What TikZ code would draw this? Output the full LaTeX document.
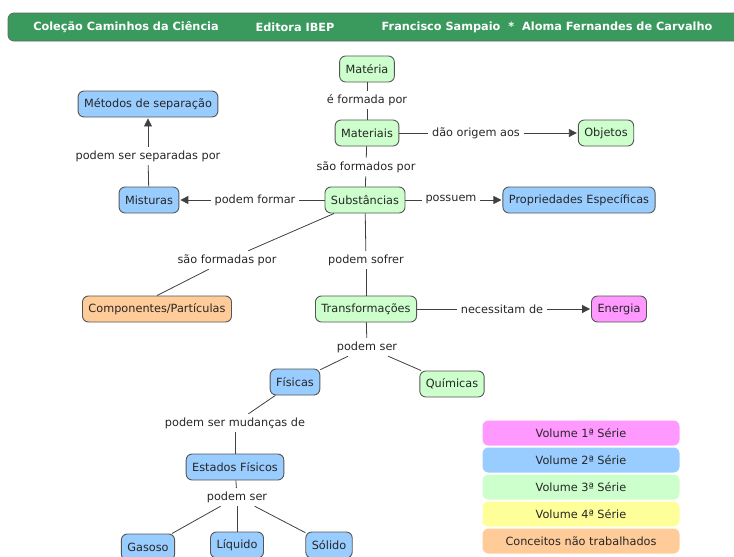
\documentclass[tikz,border=0pt]{standalone}
\usepackage{fontspec}
\setmainfont{DejaVu Sans}
\usetikzlibrary{arrows.meta}
\definecolor{hdr}{HTML}{3A9A5E}
\definecolor{cgreen}{HTML}{CCFFCC}
\definecolor{cblue}{HTML}{99CCFF}
\definecolor{corange}{HTML}{FFCC99}
\definecolor{cpink}{HTML}{FF99FF}
\definecolor{lpink}{HTML}{FF99FF}
\definecolor{lblue}{HTML}{99CCFF}
\definecolor{lgreen}{HTML}{CCFFCC}
\definecolor{lyellow}{HTML}{FFFF99}
\definecolor{lorange}{HTML}{FFCC99}
\definecolor{edge}{HTML}{555555}
\begin{document}
\begin{tikzpicture}[x=1pt,y=-1pt,
  every node/.style={font=\fontsize{11.3}{13}\selectfont, text=black!85},
  concept/.style={draw=edge, line width=0.9pt, rounded corners=6pt, minimum height=26pt, inner xsep=6pt, inner ysep=3pt},
  gbox/.style={concept, fill=cgreen},
  bbox/.style={concept, fill=cblue},
  obox/.style={concept, fill=corange},
  pbox/.style={concept, fill=cpink},
  lbl/.style={inner sep=3.5pt},
  hdrtext/.style={text=white, font=\fontsize{11.3}{13}\selectfont\bfseries},
  legend/.style={rounded corners=6pt, minimum width=197pt, minimum height=25pt, inner sep=0pt},
  link/.style={draw=black!75, line width=0.8pt},
  arr/.style={link, -{Triangle[length=8pt,width=8pt]}, shorten >=1pt}
]
\useasboundingbox (0,0) rectangle (734,557);
% header
\fill[hdr, draw=black!60, line width=0.8pt, rounded corners=6pt] (8,13) rectangle (745,41);
\node[hdrtext] (h1) at (126,27) {Coleção Caminhos da Ciência};
\node[hdrtext] (h2) at (295,27) {Editora IBEP};
\node[hdrtext] (h3) at (547,27) {Francisco Sampaio\ \ *\ \ Aloma Fernandes de Carvalho};

% concepts
\node[gbox] (materia) at (367,69) {Matéria};
\node[gbox] (materiais) at (367,133) {Materiais};
\node[gbox] (objetos) at (606,133) {Objetos};
\node[gbox] (subst) at (365,200) {Substâncias};
\node[bbox] (prop) at (579,200) {Propriedades Específicas};
\node[bbox] (misturas) at (149,200) {Misturas};
\node[bbox] (metodos) at (148,104) {Métodos de separação};
\node[obox] (comp) at (157,309) {Componentes/Partículas};
\node[gbox] (transf) at (366,309) {Transformações};
\node[pbox] (energia) at (619,309) {Energia};
\node[bbox] (fisicas) at (295,382) {Físicas};
\node[gbox] (quimicas) at (452,384) {Químicas};
\node[bbox] (estados) at (235,467) {Estados Físicos};
\node[bbox] (gasoso) at (148,547) {Gasoso};
\node[bbox] (liquido) at (237,545) {Líquido};
\node[bbox] (solido) at (329,545) {Sólido};

% linking phrases
\node[lbl] (l1) at (367,100) {é formada por};
\node[lbl] (l2) at (476,133) {dão origem aos};
\node[lbl] (l3) at (366,167) {são formados por};
\node[lbl] (l4) at (451,200) {possuem};
\node[lbl] (l5) at (255,200) {podem formar};
\node[lbl] (l6) at (148,156) {podem ser separadas por};
\node[lbl] (l7) at (227,260) {são formadas por};
\node[lbl] (l8) at (366,260) {podem sofrer};
\node[lbl] (l9) at (502,309) {necessitam de};
\node[lbl] (l10) at (367,347) {podem ser};
\node[lbl] (l11) at (235,423) {podem ser mudanças de};
\node[lbl] (l12) at (237,497) {podem ser};

% connectors
\draw[link] (materia) -- (l1);
\draw[link] (l1) -- (materiais);
\draw[link] (materiais) -- (l2);
\draw[arr] (l2) -- (objetos);
\draw[link] (materiais) -- (l3);
\draw[link] (l3) -- (subst);
\draw[link] (subst) -- (l4);
\draw[arr] (l4) -- (prop);
\draw[link] (subst) -- (l5);
\draw[arr] (l5) -- (misturas);
\draw[link] (misturas) -- (l6);
\draw[arr] (l6) -- (metodos);
\draw[link] (subst) -- (l7);
\draw[link] (l7) -- (comp.north);
\draw[link] (subst) -- (l8);
\draw[link] (l8) -- (transf);
\draw[link] (transf) -- (l9);
\draw[arr] (l9) -- (energia);
\draw[link] (transf) -- (l10);
\draw[link] (l10) -- (fisicas);
\draw[link] (l10) -- (quimicas);
\draw[link] (fisicas) -- (l11);
\draw[link] (l11) -- (estados);
\draw[link] (estados) -- (l12);
\draw[link] (l12) -- (gasoso);
\draw[link] (l12) -- (liquido);
\draw[link] (l12) -- (solido);

% legend
\node[legend, fill=lpink] (v1) at (581,433) {Volume 1ª Série};
\node[legend, fill=lblue] (v2) at (581,460) {Volume 2ª Série};
\node[legend, fill=lgreen] (v3) at (581,487) {Volume 3ª Série};
\node[legend, fill=lyellow] (v4) at (581,514) {Volume 4ª Série};
\node[legend, fill=lorange] (v5) at (581,541) {Conceitos não trabalhados};
\end{tikzpicture}
\end{document}
